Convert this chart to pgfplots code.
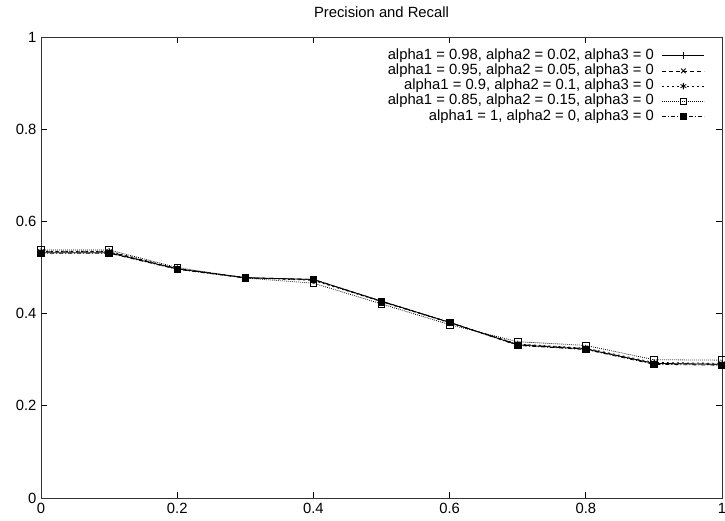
\documentclass[border=0pt]{standalone}
\usepackage{fontspec}
\setmainfont{Liberation Sans}
\usepackage{pgfplots}
\pgfplotsset{compat=1.18}

\begin{document}
\begin{tikzpicture}
\begin{axis}[
    scale only axis,
    width=681pt, height=461pt,
    xmin=0, xmax=1, ymin=0, ymax=1,
    xtick={0,0.2,...,1}, ytick={0,0.2,...,1},
    tick align=inside, major tick length=6pt,
    axis line style={line width=0.9pt, black!80},
    every tick/.style={black, line width=0.8pt},
    font=\fontsize{14.8}{16}\selectfont,
    /pgf/number format/assume math mode=true,
    xticklabel style={yshift=-2pt},
    yticklabel style={xshift=-1pt},
    title={Precision and Recall},
    title style={at={(0.5,1)}, anchor=south, yshift=13pt, inner sep=0pt},
    legend cell align=right,
    legend plot pos=right,
    legend style={draw=none, fill=none, inner sep=0pt, row sep=1.2pt,
        at={(axis description cs:0.975,0.975)}, anchor=north east,
        nodes={inner sep=1pt, text height=9.5pt, text depth=2.5pt}},
    legend image code/.code={\path (0pt,0pt);
        \draw[mark repeat=2,mark phase=2,#1]
        plot coordinates {(7pt,0pt) (28pt,0pt) (49pt,0pt)};},
    every axis plot/.append style={black, line width=0.8pt, mark size=3.3pt,
        mark options={solid}},
]
\addplot[solid, mark=+] coordinates {
(0,0.532) (0.1,0.532) (0.2,0.497) (0.3,0.478) (0.4,0.474) (0.5,0.427)
(0.6,0.381) (0.7,0.332) (0.8,0.323) (0.9,0.292) (1,0.290)};
\addplot[dash pattern=on 4pt off 3pt, mark=x] coordinates {
(0,0.534) (0.1,0.534) (0.2,0.497) (0.3,0.478) (0.4,0.474) (0.5,0.427)
(0.6,0.381) (0.7,0.333) (0.8,0.324) (0.9,0.292) (1,0.290)};
\addplot[dash pattern=on 2pt off 3pt, mark=asterisk] coordinates {
(0,0.535) (0.1,0.535) (0.2,0.498) (0.3,0.478) (0.4,0.472) (0.5,0.426)
(0.6,0.380) (0.7,0.334) (0.8,0.325) (0.9,0.294) (1,0.292)};
\addplot[dash pattern=on 0.8pt off 1.2pt, mark=square] coordinates {
(0,0.538) (0.1,0.538) (0.2,0.500) (0.3,0.477) (0.4,0.466) (0.5,0.421)
(0.6,0.376) (0.7,0.339) (0.8,0.331) (0.9,0.300) (1,0.299)};
\addplot[dash pattern=on 4pt off 2pt on 1pt off 2pt, mark=square*] coordinates {
(0,0.531) (0.1,0.531) (0.2,0.496) (0.3,0.477) (0.4,0.474) (0.5,0.426)
(0.6,0.381) (0.7,0.331) (0.8,0.322) (0.9,0.290) (1,0.288)};
\legend{{alpha1 = 0.98, alpha2 = 0.02, alpha3 = 0},
        {alpha1 = 0.95, alpha2 = 0.05, alpha3 = 0},
        {alpha1 = 0.9, alpha2 = 0.1, alpha3 = 0},
        {alpha1 = 0.85, alpha2 = 0.15, alpha3 = 0},
        {alpha1 = 1, alpha2 = 0, alpha3 = 0}}
\end{axis}
\pgfresetboundingbox
\useasboundingbox ([shift={(-41pt,-23pt)}]current axis.south west)
    rectangle ([shift={(3pt,37pt)}]current axis.north east);
\end{tikzpicture}
\end{document}
